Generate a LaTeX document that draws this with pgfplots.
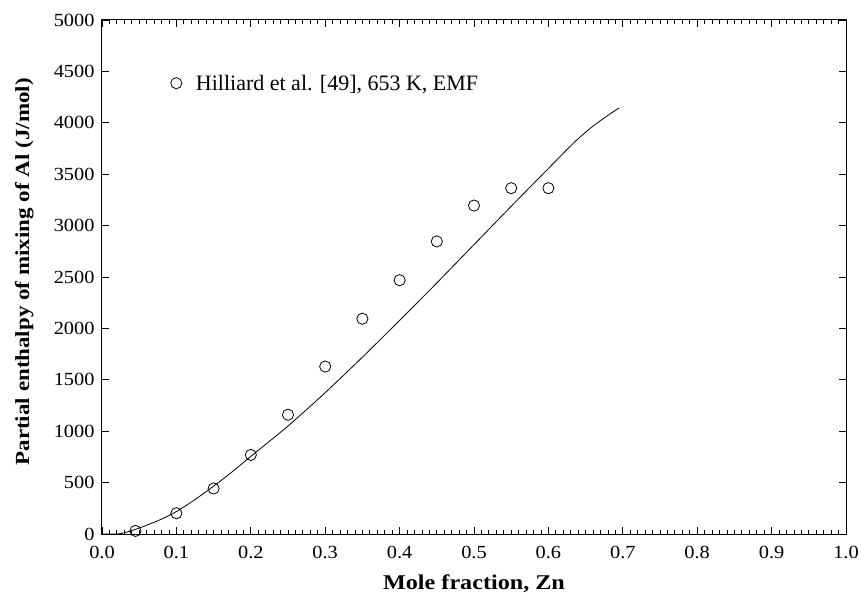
\documentclass[border=0pt]{standalone}
\usepackage{fontspec}
\setmainfont{Liberation Serif}
\newfontfamily\tickfont{Liberation Serif}[FakeStretch=1.1]
\newfontfamily\labelfont{Liberation Serif}[FakeStretch=1.15]
\usepackage{pgfplots}
\pgfplotsset{compat=1.18}
\begin{document}
\begin{tikzpicture}
\begin{axis}[
  at={(0,0)}, anchor=south west,
  scale only axis, width=744bp, height=514bp,
  xmin=0, xmax=1, ymin=0, ymax=5000,
  xtick={0,0.1,...,1.0}, minor x tick num=9,
  ytick={0,500,...,5000},
  tick align=inside,
  major tick length=7bp, minor tick length=4bp,
  axis line style={line width=1bp},
  every tick/.style={black, line width=0.8bp},
  /pgf/number format/assume math mode=true,
  /pgf/number format/1000 sep={},
  xticklabel style={/pgf/number format/.cd, fixed, fixed zerofill, precision=1, /tikz/.cd, yshift=-9bp},
  yticklabel style={xshift=-4bp},
  ticklabel style={font=\tickfont\fontsize{18.5bp}{20bp}\selectfont},
  xlabel={Mole fraction, Zn},
  ylabel={Partial enthalpy of mixing of Al (J/mol)},
  xlabel style={font=\labelfont\fontsize{21bp}{24bp}\selectfont\bfseries,
    at={(axis description cs:0.5,-0.073)}, anchor=north},
  ylabel style={font=\labelfont\fontsize{20bp}{24bp}\selectfont\bfseries,
    at={(axis description cs:-0.0874,0.51)}, anchor=south},
  legend style={draw=none, fill=none, at={(rel axis cs:0.0921,0.877)}, anchor=west, inner sep=0pt,
    font=\fontsize{22bp}{24bp}\selectfont},
  legend cell align=left,
  /tikz/every odd column/.append style={column sep=12bp},
]
\addplot[only marks, mark=o, mark size=5.6bp, mark options={line width=0.8bp}, black]
  coordinates {(0.045,30) (0.1,202) (0.15,443) (0.2,769) (0.25,1160) (0.3,1629) (0.35,2094)
  (0.4,2469) (0.45,2846) (0.5,3195) (0.55,3364) (0.6,3364)};
\addlegendentry{Hilliard et al. [49], 653 K, EMF}
\addplot[black, line width=0.8bp, smooth, tension=0.4, forget plot]
  coordinates {(0,0) (0.02,0) (0.03,12) (0.045,45) (0.06,85) (0.08,145) (0.1,218) (0.125,335)
  (0.15,466) (0.175,605) (0.2,755) (0.25,1050) (0.3,1375) (0.35,1720) (0.4,2078)
  (0.45,2442) (0.5,2815) (0.55,3188) (0.6,3556) (0.625,3740) (0.64,3845) (0.66,3968) (0.68,4072) (0.695,4145)};
\end{axis}
\pgfresetboundingbox
\path[use as bounding box] (-102bp,-62bp) rectangle (759bp,534bp);
\end{tikzpicture}
\end{document}
